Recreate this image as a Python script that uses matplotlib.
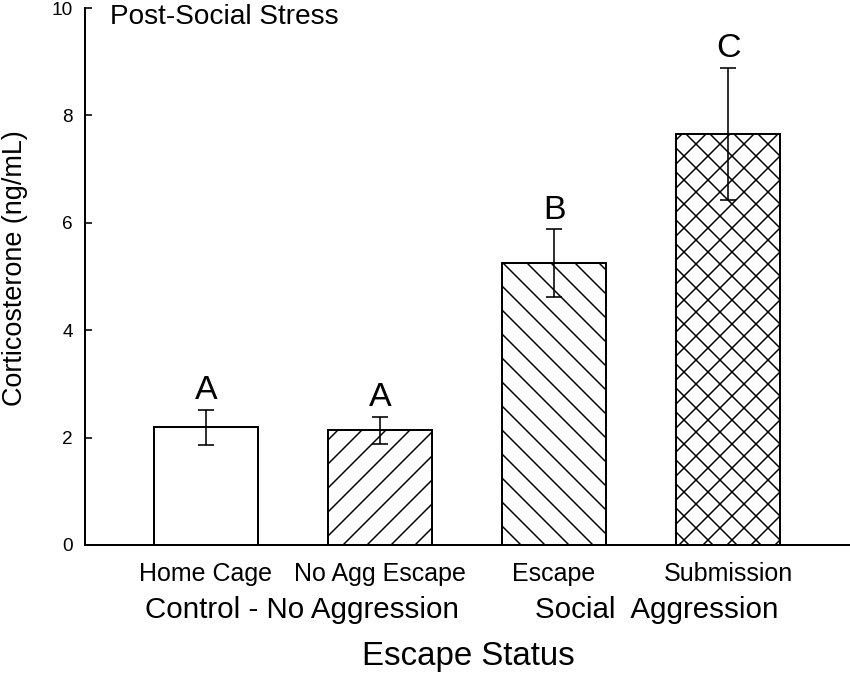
import matplotlib
matplotlib.use('Agg')
import matplotlib.pyplot as plt

plt.rcParams['font.family'] = ['Liberation Sans', 'DejaVu Sans']
plt.rcParams['hatch.linewidth'] = 1.5

# data
groups = ['Home Cage', 'No Agg Escape', 'Escape', 'Submission']
means = [2.19, 2.14, 5.25, 7.66]
sems = [0.33, 0.25, 0.63, 1.23]
letters = ['A', 'A', 'B', 'C']
hatches = ['', '/', '\\', 'x']

# dpi 72 so that the default hatch spacing matches the original
fig = plt.figure(figsize=(850 / 72, 674 / 72), dpi=72)
ax = fig.add_axes([0.1, 0.1914, 0.9, 0.7967])

x = list(range(len(groups)))
ax.bar(x, means, width=0.6, color='white', edgecolor='black', linewidth=2, hatch=hatches, zorder=2)
ax.errorbar(x, means, yerr=sems, fmt='none', ecolor='black', elinewidth=1.6, capsize=8, capthick=1.6, zorder=3)

for xi, m, s, lab in zip(x, means, sems, letters):
    ax.text(xi, m + s + 0.2, lab, ha='center', va='baseline', fontsize=34)

ax.set_xlim(-0.695, 3.70)
ax.set_ylim(0, 10)
ax.set_yticks([0, 2, 4, 6, 8, 10])
ax.tick_params(axis='y', direction='in', length=7, width=1.6, labelsize=19, pad=12)
ax.set_xticks(x)
ax.set_xticklabels(groups, fontsize=25)
ax.tick_params(axis='x', length=0, pad=17)

for side in ['top', 'right']:
    ax.spines[side].set_visible(False)
for side in ['left', 'bottom']:
    ax.spines[side].set_linewidth(2)

ax.set_ylabel('Corticosterone (ng/mL)', fontsize=27)
ax.yaxis.set_label_coords(-0.074, 0.516)
fig.text(302 / 850, 1 - 610 / 674, 'Control - No Aggression', fontsize=29.5, ha='center', va='center')
fig.text(657 / 850, 1 - 610 / 674, 'Social  Aggression', fontsize=29.5, ha='center', va='center')
fig.text(468 / 850, 1 - 657 / 674, 'Escape Status', fontsize=33, ha='center', va='center')
ax.text(0.033, 0.970, 'Post-Social Stress', transform=ax.transAxes, fontsize=28, ha='left', va='baseline')

fig.savefig('out.png', dpi=72)
